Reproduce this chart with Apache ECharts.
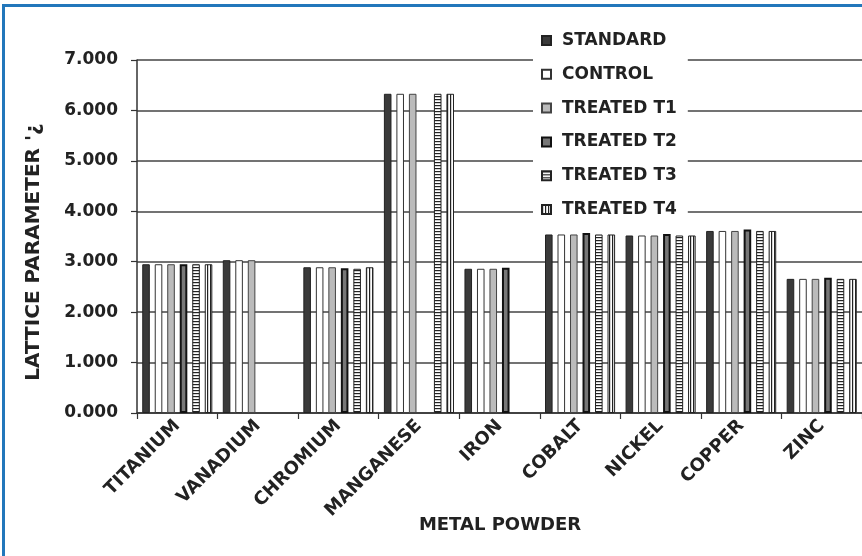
<!DOCTYPE html>
<html><head><meta charset="utf-8">
<script src="https://cdn.jsdelivr.net/npm/echarts@6/dist/echarts.min.js"></script>
<style>html,body{margin:0;padding:0;background:#fff}#c{width:862px;height:556px}</style>
</head><body><div id="c"></div>
<script>
const categories = ['TITANIUM','VANADIUM','CHROMIUM','MANGANESE','IRON','COBALT','NICKEL','COPPER','ZINC'];
const seriesNames = ['STANDARD','CONTROL','TREATED T1','TREATED T2','TREATED T3','TREATED T4'];
const standard  = [2.95, 3.03, 2.89, 6.33, 2.86, 3.54, 3.52, 3.61, 2.66];
const control   = [2.95, 3.03, 2.89, 6.33, 2.86, 3.54, 3.52, 3.61, 2.66];
const treatedT1 = [2.95, 3.03, 2.89, 6.33, 2.86, 3.54, 3.52, 3.61, 2.66];
const treatedT2 = [2.95, null, 2.87, null, 2.88, 3.57, 3.55, 3.64, 2.68];
const treatedT3 = [2.95, null, 2.86, 6.33, null, 3.54, 3.52, 3.61, 2.66];
const treatedT4 = [2.95, null, 2.89, 6.33, null, 3.54, 3.52, 3.61, 2.66];
const yAxisName = "LATTICE PARAMETER '¿";
const xAxisName = 'METAL POWDER';

const FONT = 'DejaVu Sans';
function stripe(horizontal){
  const c = document.createElement('canvas');
  c.width = horizontal ? 4 : 3; c.height = horizontal ? 3 : 4;
  const g = c.getContext('2d');
  g.fillStyle = '#fff'; g.fillRect(0,0,c.width,c.height);
  g.fillStyle = '#222';
  if (horizontal) g.fillRect(0,0,4,1.2); else g.fillRect(0,0,1.2,4);
  return c;
}
const styles = [
  {color:'#3a3a3a', borderColor:'#222', borderWidth:1},
  {color:'#ffffff', borderColor:'#333', borderWidth:1},
  {color:'#bbbbbb', borderColor:'#444', borderWidth:1},
  {color:'#777777', borderColor:'#111', borderWidth:2},
  {color:{image:stripe(true), repeat:'repeat'}, borderColor:'#222', borderWidth:1},
  {color:{image:stripe(false), repeat:'repeat'}, borderColor:'#222', borderWidth:1}
];
const dataSets = [standard, control, treatedT1, treatedT2, treatedT3, treatedT4];

const chart = echarts.init(document.getElementById('c'), null, {renderer:'canvas'});
chart.setOption({
  animation:false,
  backgroundColor:'#fff',
  grid:{left:137, right:-2, top:60, bottom:143},
  legend:{
    orient:'vertical', left:533, top:23, selectedMode:false,
    icon:'rect', itemWidth:9, itemHeight:9, itemGap:14.8,
    backgroundColor:'#fff', padding:[8,11,6,8],
    textStyle:{fontFamily:FONT, fontWeight:'bold', fontSize:17, color:'#222', lineHeight:19, padding:[0,0,0,6]},
    data:seriesNames
  },
  xAxis:{
    type:'category', data:categories,
    axisLine:{lineStyle:{color:'#333', width:1.5}},
    axisTick:{show:true, length:6, lineStyle:{color:'#333', width:1.2}},
    axisLabel:{rotate:45, interval:0, margin:10, fontFamily:FONT, fontWeight:'bold', fontSize:18, color:'#222'}
  },
  yAxis:{
    type:'value', min:0, max:7, interval:1,
    axisLine:{show:true, lineStyle:{color:'#333', width:1.5}},
    axisTick:{show:true, length:6, lineStyle:{color:'#333', width:1.2}},
    splitLine:{show:true, lineStyle:{color:'#444', width:1.5}},
    axisLabel:{formatter:v=>v.toFixed(3), margin:19, fontFamily:FONT, fontWeight:'bold', fontSize:17, color:'#222'}
  },
  series: seriesNames.map((n,i)=>({
    name:n, type:'bar', data:dataSets[i], barGap:'65%', barCategoryGap:'13%',
    itemStyle:styles[i]
  })),
  graphic:[
    {type:'rect', z:100, shape:{x:3.5, y:5.5, width:900, height:600}, style:{fill:'none', stroke:'#2277bb', lineWidth:3}},
    {type:'text', x:34, y:252, rotation:Math.PI/2, style:{text:yAxisName, align:'center', verticalAlign:'middle', fontFamily:FONT, fontWeight:'bold', fontSize:20, fill:'#222'}},
    {type:'text', x:500, y:525, style:{text:xAxisName, align:'center', verticalAlign:'middle', fontFamily:FONT, fontWeight:'bold', fontSize:18, fill:'#222'}}
  ]
});
</script></body></html>
